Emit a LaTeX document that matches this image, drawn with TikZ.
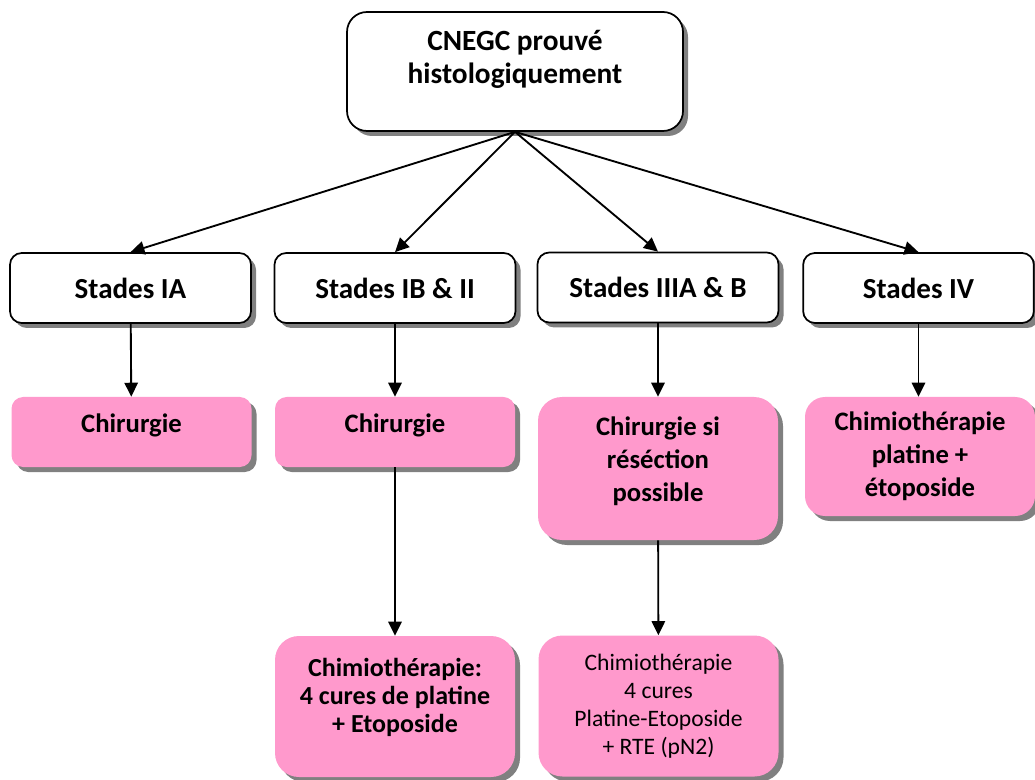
\documentclass[tikz,border=0pt]{standalone}
\usepackage{fontspec}
\setmainfont{Carlito}
\usetikzlibrary{arrows.meta,shadows}

\definecolor{rose}{HTML}{FF99CC}

\tikzset{
  ombre/.style={drop shadow={shadow xshift=3.75pt,shadow yshift=-3.75pt,fill=black!50,opacity=1}},
  stade/.style={draw,line width=1.3pt,fill=white,rounded corners=8.8pt,ombre,
    minimum width=180.75pt,minimum height=52.5pt,align=center,
    font=\fontsize{21.8}{26}\selectfont\bfseries},
  traitement/.style={fill=rose,rounded corners=8.8pt,ombre,
    minimum width=180pt,minimum height=52.5pt,align=center,
    font=\fontsize{20}{24.75}\selectfont\bfseries},
  fleche/.style={line width=1.4pt,-{Triangle[length=10.5pt,width=10pt]}}
}

\begin{document}
\begin{tikzpicture}[x=0.75pt,y=-0.75pt]
  \useasboundingbox (0,0) rectangle (1035,780);

  % Diagnostic
  \node[stade,minimum width=252pt,minimum height=89.25pt,rounded corners=15pt,
    font=\fontsize{22}{24.75}\selectfont\bfseries] (cnegc)
    at (515,71.5) {CNEGC prouvé\\histologiquement\\[-3pt]};

  % Stades
  \node[stade] (ia) at (130.5,288) {Stades IA};
  \node[stade] (ib) at (395,288) {Stades IB \& II};
  \node[stade] (iiia) at (658,287.5) {Stades IIIA \& B};
  \node[stade,minimum width=173pt] (iv) at (918.5,288) {Stades IV};

  % Traitements
  \node[traitement] (chirIA) at (131.5,432) {Chirurgie\\[-11pt]};
  \node[traitement] (chirIB) at (395,432) {Chirurgie\\[-11pt]};
  \node[traitement,minimum height=107.25pt,rounded corners=18pt] (chirIIIA)
    at (658,468.5) {Chirurgie si\\réséction\\possible\\[-11pt]};
  \node[traitement,minimum width=172.5pt,minimum height=89.25pt,rounded corners=15pt] (chimioIV)
    at (920,456.5) {Chimiothérapie\\platine +\\étoposide};

  % Chimiotherapies
  \node[traitement,minimum height=105.75pt,rounded corners=18pt,
    font=\fontsize{19.5}{21}\selectfont\bfseries] (chimioIB)
    at (395,706.5) {Chimiothérapie:\\4 cures de platine\\+ Etoposide\\[-5pt]};
  \node[traitement,minimum height=105.75pt,rounded corners=18pt,
    font=\fontsize{17.7}{21}\selectfont] (chimioIIIA)
    at (658.5,706) {Chimiothérapie\\4 cures\\Platine-Etoposide\\+ RTE (pN2)};

  % Fleches
  \draw[fleche] (cnegc.south) -- (ia.north);
  \draw[fleche] (cnegc.south) -- (ib.north);
  \draw[fleche] (cnegc.south) -- (iiia.north);
  \draw[fleche] (cnegc.south) -- (iv.north);
  \draw[fleche] (ia) -- (chirIA);
  \draw[fleche] (ib) -- (chirIB);
  \draw[fleche] (iiia) -- (chirIIIA);
  \draw[fleche] (iv.south) -- (iv.south |- chimioIV.north);
  \draw[fleche] (chirIB) -- (chimioIB);
  \draw[fleche] (chirIIIA) -- (chimioIIIA);

\end{tikzpicture}
\end{document}
